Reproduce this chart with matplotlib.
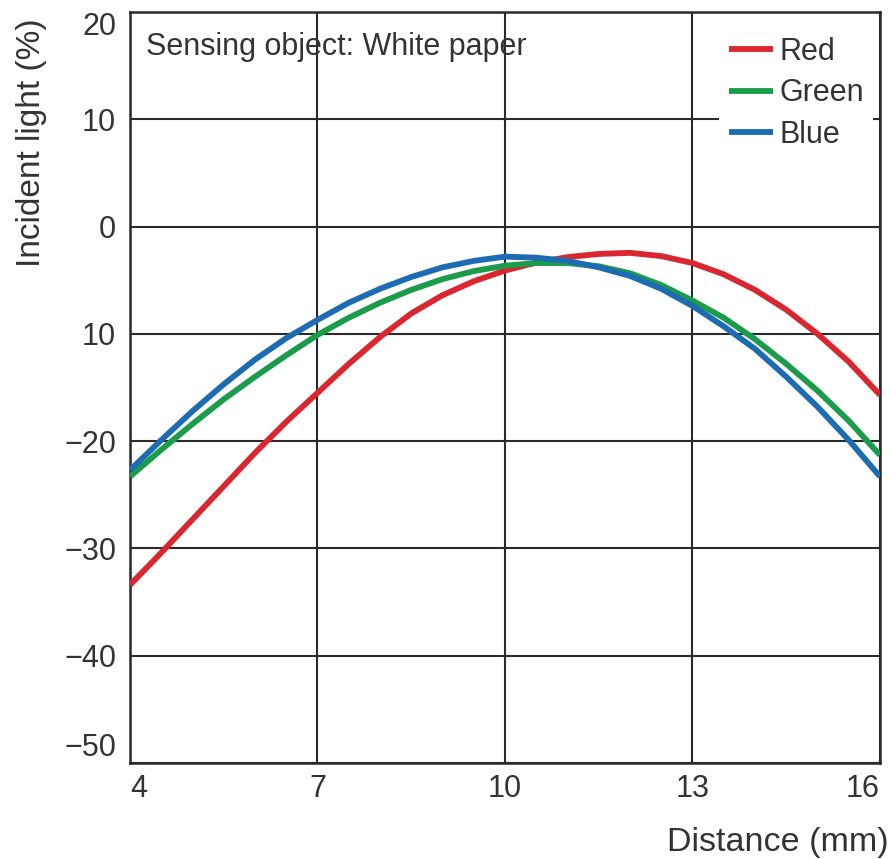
import numpy as np
import matplotlib
matplotlib.use("Agg")
import matplotlib.pyplot as plt

plt.rcParams['font.family'] = ['Liberation Sans', 'DejaVu Sans']

# distance (mm) and incident light (%)
distance = [4, 4.5, 5, 5.5, 6, 6.5, 7, 7.5, 8, 8.5, 9, 9.5, 10, 10.5,
            11, 11.5, 12, 12.5, 13, 13.5, 14, 14.5, 15, 15.5, 16]
red = [-33.4, -30.4, -27.3, -24.2, -21.1, -18.2, -15.5, -12.8, -10.3, -8.1,
       -6.4, -5.1, -4.1, -3.35, -2.85, -2.55, -2.45, -2.75, -3.4, -4.45,
       -5.9, -7.75, -10.0, -12.6, -15.7]
green = [-23.3, -20.8, -18.4, -16.1, -14.0, -12.0, -10.1, -8.5, -7.1, -5.9,
         -4.9, -4.15, -3.65, -3.4, -3.4, -3.7, -4.35, -5.45, -6.9, -8.5,
         -10.5, -12.8, -15.3, -18.1, -21.3]
blue = [-22.7, -19.9, -17.2, -14.7, -12.4, -10.4, -8.7, -7.1, -5.8, -4.7,
        -3.8, -3.2, -2.8, -2.9, -3.2, -3.8, -4.6, -5.8, -7.4, -9.3,
        -11.4, -14.0, -16.8, -19.9, -23.3]

x_ticks = [4, 7, 10, 13, 16]
x_labels = ["4", "7", "10", "13", "16"]
y_ticks = [20, 10, 0, -10, -20, -30, -40, -50]
y_labels = ["20", "10", "0", "10", "\u221220", "\u221230", "\u221240", "\u221250"]

txt = "#333333"
fs = 22

fig = plt.figure(figsize=(8.93, 8.59), dpi=100)
ax = fig.add_axes([130 / 893, 1 - 763 / 859, 750 / 893, 751 / 859])

ax.plot(distance, red, color="#d9262f", lw=4.2, label="Red", zorder=3,
        solid_joinstyle="round", solid_capstyle="butt")
ax.plot(distance, green, color="#1a9c4b", lw=4.2, label="Green", zorder=3,
        solid_joinstyle="round", solid_capstyle="butt")
ax.plot(distance, blue, color="#1d6cb3", lw=4.2, label="Blue", zorder=4,
        solid_joinstyle="round", solid_capstyle="butt")

ax.set_xlim(4, 16)
ax.set_ylim(-50, 20)
ax.set_xticks(x_ticks)
ax.set_xticklabels(x_labels)
ax.set_yticks(y_ticks)
ax.set_yticklabels(y_labels)
ax.tick_params(length=0, labelsize=fs, labelcolor=txt)
ax.tick_params(axis="x", pad=8)
ax.tick_params(axis="y", pad=10)
xl = ax.get_xticklabels()
xl[0].set_horizontalalignment("left")
xl[-1].set_horizontalalignment("right")
yl = ax.get_yticklabels()
yl[0].set_verticalalignment("top")
yl[-1].set_verticalalignment("bottom")

ax.grid(True, color="#2a2a2a", lw=1.5, zorder=1)
for s in ax.spines.values():
    s.set_color("#2a2a2a")
    s.set_linewidth(1.8)

ax.text(0.022, 0.974, "Sensing object: White paper", transform=ax.transAxes,
        fontsize=fs, color=txt, va="top", ha="left")

leg = ax.legend(loc="upper left", bbox_to_anchor=(0.786, 0.979), frameon=True,
                fontsize=fs, handlelength=1.45, handletextpad=0.2,
                labelspacing=0.37, borderpad=0.3, borderaxespad=0.0)
leg.get_frame().set_facecolor("white")
leg.get_frame().set_edgecolor("none")
leg.get_frame().set_alpha(1)
for t in leg.get_texts():
    t.set_color(txt)

fig.text(32 / 893, 1 - 18 / 859, "Incident light (%)", rotation=90,
         fontsize=24, color=txt, ha="center", va="top")
fig.text(889 / 893, 1 / 859, "Distance (mm)", fontsize=24.5, color=txt,
         ha="right", va="bottom")

fig.savefig("out.png", dpi=100)
